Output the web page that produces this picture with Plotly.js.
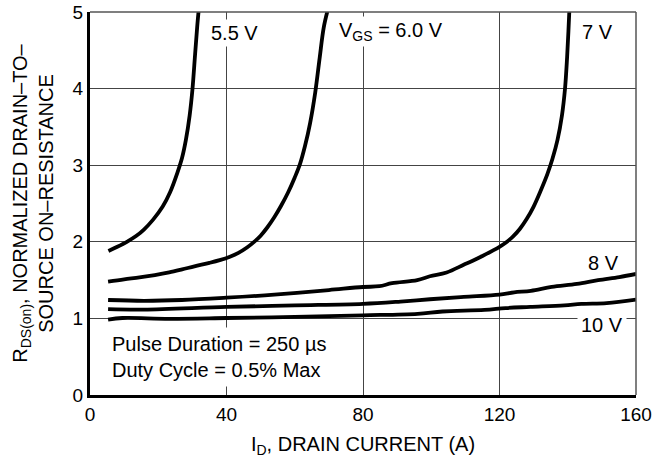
<!DOCTYPE html>
<html>
<head>
<meta charset="utf-8">
<script src="https://cdn.plot.ly/plotly-3.0.1.min.js"></script>
<style>html,body{margin:0;padding:0;background:#fff;}#chart{width:661px;height:470px;}</style>
</head>
<body>
<div id="chart"></div>
<script>
// Drain current (A) and normalized RDS(on) for each VGS curve
var x55 = [5.4, 8, 10.8, 13.5, 15.8, 18.5, 21.3, 23.5, 25.6, 27.0, 28.1, 29.2, 30.0, 30.8, 31.4, 31.9];
var y55 = [1.88, 1.935, 2.0, 2.075, 2.16, 2.29, 2.46, 2.65, 2.9, 3.1, 3.33, 3.65, 3.98, 4.45, 4.8, 5.05];

var x60 = [5.3, 10, 14.5, 19, 23.2, 27, 30.6, 35, 38, 41, 43.5, 46, 48, 50, 52, 54, 56, 58, 60, 61.5, 63, 64.5, 66, 67.3, 68.5, 69.8];
var y60 = [1.48, 1.51, 1.535, 1.565, 1.60, 1.64, 1.68, 1.725, 1.76, 1.805, 1.855, 1.925, 1.995, 2.08, 2.19, 2.32, 2.47, 2.64, 2.84, 3.01, 3.25, 3.55, 3.95, 4.4, 4.8, 5.05];

var x70 = [5.3, 15.8, 26.9, 40, 54, 70, 80, 84.8, 88.5, 95.9, 99.6, 104.5, 109.5, 112, 115, 118, 120, 122, 124, 126, 128, 130, 132, 134, 135.5, 137, 138.3, 139.2, 139.8, 140.2, 140.5];
var y70 = [1.24, 1.23, 1.24, 1.27, 1.31, 1.37, 1.41, 1.42, 1.46, 1.50, 1.55, 1.60, 1.70, 1.75, 1.815, 1.885, 1.935, 1.995, 2.07, 2.17, 2.30, 2.46, 2.66, 2.88, 3.08, 3.33, 3.65, 4.0, 4.4, 4.75, 5.05];

var x80 = [5.3, 15.8, 40, 60, 80, 91, 99.6, 109.5, 120, 124.3, 129.2, 135.3, 142.7, 148.9, 155.1, 160];
var y80 = [1.12, 1.115, 1.15, 1.17, 1.19, 1.22, 1.25, 1.28, 1.31, 1.34, 1.36, 1.41, 1.45, 1.50, 1.54, 1.58];

var x100 = [5.3, 9.5, 23.2, 40, 60, 80, 96, 103.3, 115.6, 121.8, 129, 139, 144, 151.4, 160];
var y100 = [0.985, 1.005, 0.995, 1.005, 1.02, 1.04, 1.06, 1.09, 1.11, 1.135, 1.15, 1.17, 1.19, 1.20, 1.245];

var xTicks = [0, 40, 80, 120, 160];
var yTicks = [0, 1, 2, 3, 4, 5];

var FONT = '"Liberation Sans", Arial, Helvetica, sans-serif';

function curve(x, y) {
  return {x: x, y: y, type: 'scatter', mode: 'lines',
    line: {color: '#000', width: 3.8, shape: 'spline', smoothing: 1},
    hoverinfo: 'skip', showlegend: false};
}

var data = [curve(x55, y55), curve(x60, y60), curve(x70, y70), curve(x80, y80), curve(x100, y100)];

function lab(text, x, y, opts) {
  var a = {text: text, x: x, y: y, xref: 'x', yref: 'y', showarrow: false,
    xanchor: 'left', yanchor: 'middle', font: {family: FONT, size: 20, color: '#000'},
    bgcolor: 'rgba(0,0,0,0)', borderpad: 2};
  for (var k in opts) a[k] = opts[k];
  return a;
}

var layout = {
  width: 661, height: 470,
  margin: {l: 90, r: 25, t: 12, b: 75},
  paper_bgcolor: '#fff', plot_bgcolor: '#fff',
  font: {family: FONT, size: 19, color: '#000'},
  xaxis: {
    range: [0, 160], tickvals: xTicks, ticktext: xTicks.map(String),
    showgrid: true, gridcolor: '#444', gridwidth: 1, zeroline: false,
    showline: true, linecolor: '#000', linewidth: 3, ticks: '',
    tickfont: {family: FONT, size: 19, color: '#000'},
    title: {text: 'I<sub>D</sub>, DRAIN CURRENT (A)', font: {family: FONT, size: 20, color: '#000'}, standoff: 14},
    fixedrange: true
  },
  yaxis: {
    range: [0, 5], tickvals: yTicks, ticktext: yTicks.map(String),
    showgrid: true, gridcolor: '#444', gridwidth: 1, zeroline: false,
    showline: true, linecolor: '#000', linewidth: 3, ticks: '',
    tickfont: {family: FONT, size: 19, color: '#000'},
    title: {text: 'R<sub>DS(on)</sub>, NORMALIZED DRAIN\u2013TO\u2013<br>SOURCE ON\u2013RESISTANCE', font: {family: FONT, size: 20, color: '#000'}, standoff: 14},
    fixedrange: true
  },
  shapes: [
    {type: 'line', xref: 'paper', yref: 'paper', x0: 0, x1: 1, y0: 1, y1: 1, line: {color: '#555', width: 1.5}},
    {type: 'line', xref: 'paper', yref: 'paper', x0: 1, x1: 1, y0: 0, y1: 1, line: {color: '#555', width: 1.5}}
  ],
  annotations: [
    lab('5.5 V', 34.6, 4.73, {bgcolor: '#fff'}),
    lab('V<sub>GS</sub> = 6.0 V', 72.0, 4.75, {bgcolor: '#fff'}),
    lab('7 V', 143.4, 4.74),
    lab('8 V', 145.2, 1.72),
    lab('10 V', 142.7, 0.91, {bgcolor: '#fff', borderpad: 3}),
    lab('Pulse Duration = 250 \u00b5s<br>Duty Cycle = 0.5% Max', 4.7, 0.49, {align: 'left', bgcolor: '#fff', borderpad: 5})
  ]
};

Plotly.newPlot('chart', data, layout, {displayModeBar: false, staticPlot: true});
</script>
</body>
</html>
